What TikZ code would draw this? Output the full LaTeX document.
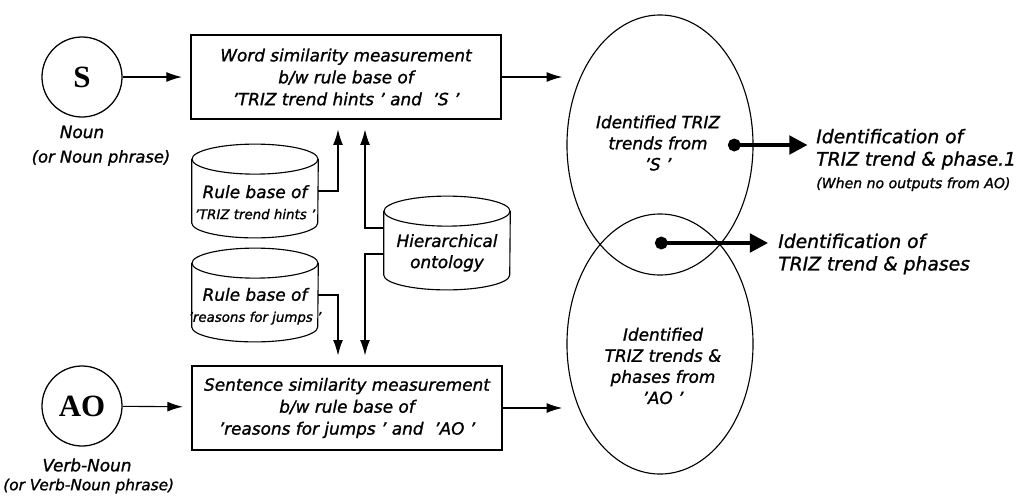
\documentclass[tikz,border=0pt]{standalone}
\usepackage{fontspec}
\setmainfont{DejaVu Sans}[RawFeature={embolden=1.2}]
\newfontfamily\termfont{Liberation Serif}
\usetikzlibrary{arrows.meta,shapes.geometric,shadows}

\begin{document}
\begin{tikzpicture}[x=0.025cm,y=-0.025cm,
	term/.style={circle, draw, line width=0.9pt, minimum size=2cm, inner sep=0pt,
		font=\termfont\bfseries\fontsize{22}{24}\selectfont},
	proc/.style={rectangle, draw, line width=0.9pt, fill=white, align=center,
		minimum width=7.75cm, minimum height=2.1cm,
		drop shadow={shadow xshift=1pt, shadow yshift=-1pt, fill=black!60, opacity=0.7},
		font=\itshape\fontsize{12}{15.6}\selectfont},
	base/.style={rectangle, minimum width=3.15cm, minimum height=2.33cm, inner sep=0pt},
	set/.style={ellipse, draw, line width=0.8pt, minimum width=4.65cm,
		minimum height=6.5cm, inner sep=0pt},
	txt/.style={align=center, inner sep=0pt, font=\itshape\fontsize{12}{15}\selectfont},
	idtext/.style={txt, anchor=west, align=left, font=\itshape\fontsize{13.3}{16}\selectfont},
	flow/.style={-{Latex[length=11pt,width=7pt]}, line width=0.8pt},
	result/.style={{Circle[length=9pt]}-{Triangle[length=13pt,width=13pt]}, line width=3pt},
	]

	\useasboundingbox (0,0) rectangle (1021,496);

	% inputs
	\node[term] (s) at (82,77) {S};
	\node[term] (ao) at (82,406) {AO};
	\node[txt] (noun) at (82,132) {Noun};
	\node[txt, font=\itshape\fontsize{11.6}{14}\selectfont] (nounph) at (101,158) {(or Noun phrase)};
	\node[txt] (verb) at (87,465) {Verb-Noun};
	\node[txt, anchor=west, font=\itshape\fontsize{10.9}{14}\selectfont] (verbph) at (3,486)
		{(or Verb-Noun phrase)};

	% measurement boxes
	\node[proc] (wordbox) at (346,77)
		{Word similarity measurement\\b/w rule base of\\'TRIZ trend hints ' and\ \ 'S '};
	\node[proc] (sentbox) at (347,408)
		{Sentence similarity measurement\\b/w rule base of\\'reasons for jumps ' and\ \ 'AO '};

	% rule bases
	\node[base] (hints) at (255,191) {};
	\node[base] (jumps) at (255,295) {};
	\node[base] (onto) at (447,243) {};
	\foreach \n in {hints,jumps,onto} {
		\draw[line width=0.8pt] ([yshift=-0.375cm]\n.north) ellipse [x radius=1.575cm, y radius=0.375cm];
		\draw[line width=0.8pt] ([yshift=-0.375cm]\n.north west) -- ([yshift=0.375cm]\n.south west)
			arc[start angle=180, end angle=360, x radius=1.575cm, y radius=0.375cm]
			-- ([yshift=-0.375cm]\n.north east);
	}
	\node[txt] (hintstxt) at ([yshift=-8pt]hints.center)
		{Rule base of\\{\fontsize{9.5}{12}\selectfont 'TRIZ trend hints '}};
	\node[txt] (jumpstxt) at ([yshift=-8pt]jumps.center)
		{Rule base of\\{\fontsize{9.5}{12}\selectfont 'reasons for jumps '}};
	\node[txt] (ontotxt) at ([yshift=-7pt]onto.center) {Hierarchical\\ontology};

	% identified trends
	\node[set] (trendS) at (660,145) {};
	\node[set] (trendAO) at (660,344) {};
	\node[txt] (trendStxt) at (658,143) {Identified TRIZ\\trends from\\'S '};
	\node[txt] (trendAOtxt) at (663,366) {Identified\\TRIZ trends \&\\phases from\\'AO '};

	% outputs
	\coordinate (dotS) at (728,145);
	\coordinate (dotAO) at (655,243);
	\node[idtext] (idone) at (816,160)
		{Identification of\\TRIZ trend \& phase.1\\{\fontsize{10}{12}\selectfont(When no outputs from AO)}};
	\node[idtext] (idtwo) at (778,254) {Identification of\\TRIZ trend \& phases};

	% connectors
	\foreach \a/\b in {s/wordbox, ao/sentbox} { \draw[flow, shorten >=6pt] (\a) -- (\b); }
	\draw[flow] (wordbox.east) -- ([xshift=-3pt]wordbox.east -| trendS.west);
	\draw[flow] (sentbox.east) -- ([xshift=-3pt]sentbox.east -| trendAO.west);

	\draw[flow, shorten >=7pt] (hints.east) -| ([xshift=-0.2cm]wordbox.south);
	\draw[flow, shorten >=7pt] ([yshift=0.375cm]onto.west) -| ([xshift=0.475cm]wordbox.south);
	\draw[flow, shorten >=7pt] (jumps.east) -| ([xshift=-0.225cm]sentbox.north);
	\draw[flow, shorten >=7pt] ([yshift=-0.275cm]onto.west) -| ([xshift=0.45cm]sentbox.north);

	\draw[result] (dotS) -- ([xshift=-6pt]dotS -| idone.west);
	\draw[result] (dotAO) -- ([xshift=-7pt]dotAO -| idtwo.west);

\end{tikzpicture}
\end{document}
